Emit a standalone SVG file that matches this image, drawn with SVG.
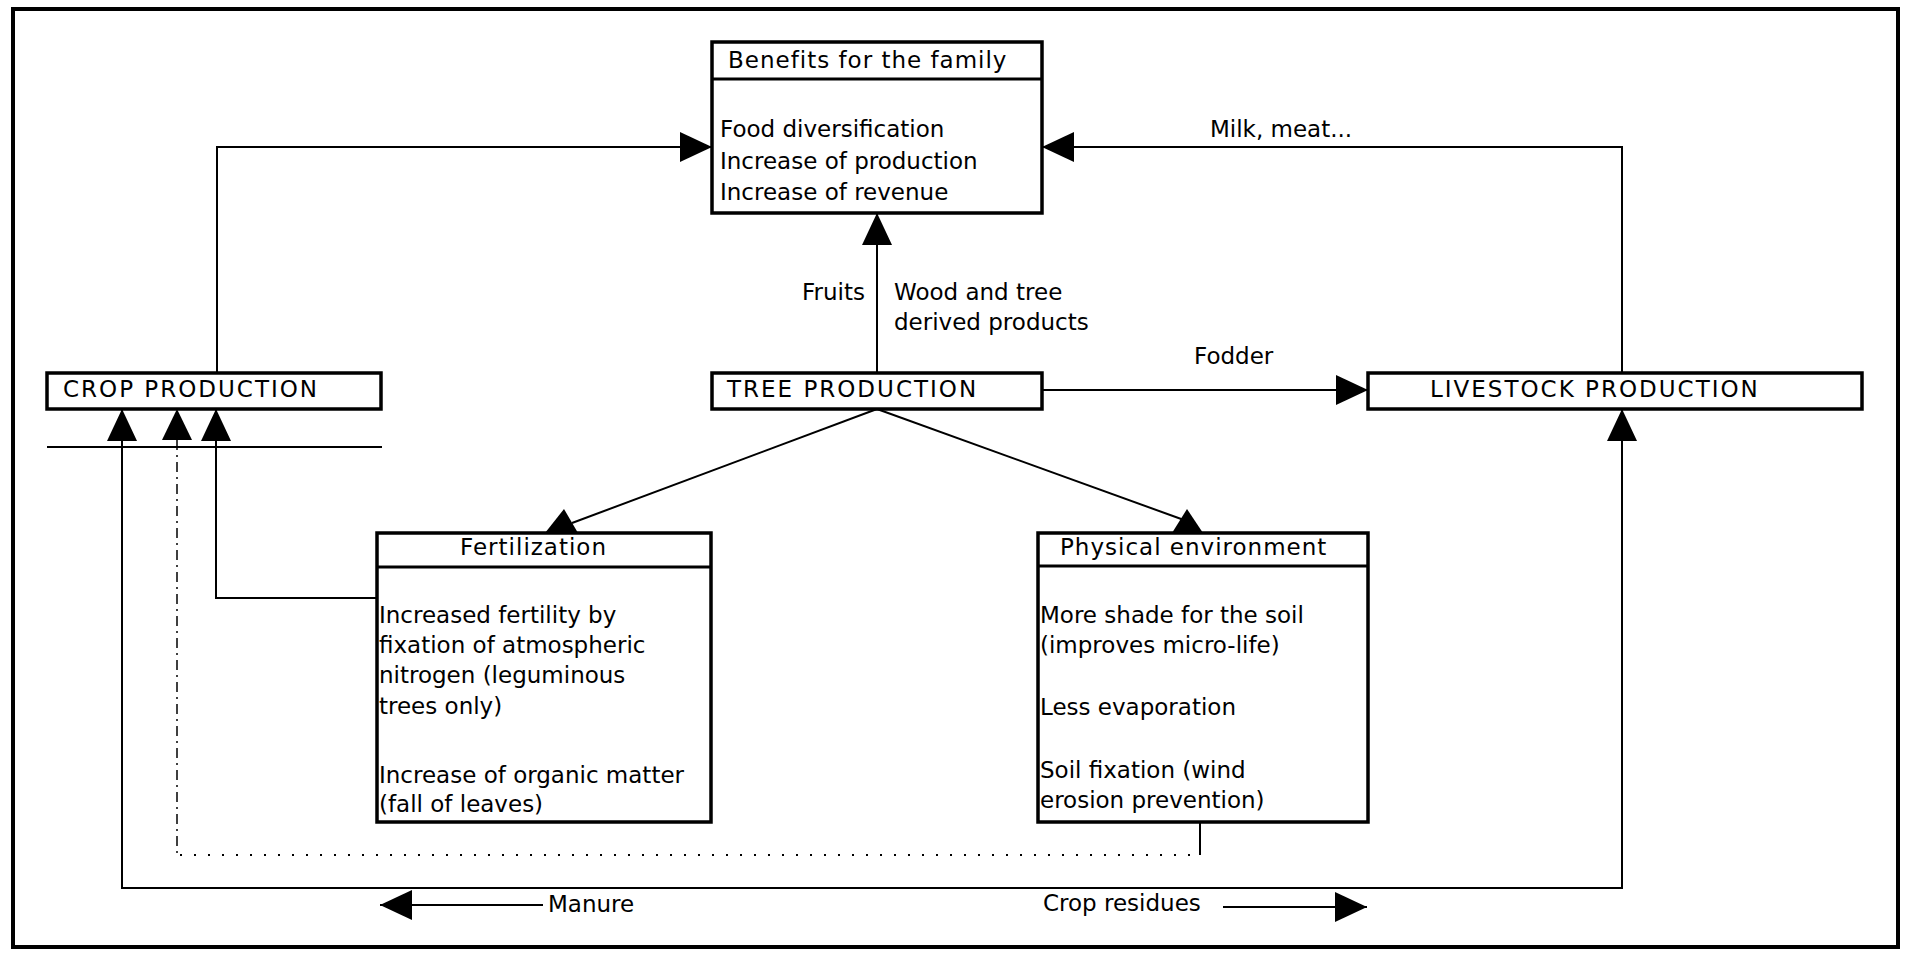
<svg xmlns="http://www.w3.org/2000/svg" width="1910" height="953" viewBox="0 0 1910 953">
<defs>
<style>
text{font-family:"DejaVu Sans","Liberation Sans",sans-serif;font-size:23px;fill:#000}
.cap{letter-spacing:2px}
.ttl{letter-spacing:1px}
.box{fill:#fff;stroke:#000;stroke-width:3.5}
.div{stroke:#000;stroke-width:3}
.ln{fill:none;stroke:#000;stroke-width:2}
.dash{fill:none;stroke:#000;stroke-width:1.5;stroke-dasharray:10 5 2 5}
.dot{fill:none;stroke:#000;stroke-width:2;stroke-dasharray:2 12}
.tri{fill:#000}
</style>
<marker id="ah" markerWidth="32" markerHeight="30" refX="32" refY="15" orient="auto-start-reverse" markerUnits="userSpaceOnUse">
<path d="M0,0 L32,15 L0,30 Z" fill="#000"/>
</marker>
</defs>
<rect x="13" y="9" width="1885" height="938" fill="#fff" stroke="#000" stroke-width="4"/>

<g id="connectors">
<path class="ln" d="M217,373 V147 H712" marker-end="url(#ah)"/>
<path class="ln" d="M1622,373 V147 H1042" marker-end="url(#ah)"/>
<path class="ln" d="M877,373 V213" marker-end="url(#ah)"/>
<path class="ln" d="M1042,390 H1368" marker-end="url(#ah)"/>
<path class="ln" d="M877,409 L572,523"/>
<polygon class="tri" points="545,533 578,533 564,509"/>
<path class="ln" d="M877,409 L1184,520"/>
<polygon class="tri" points="1172,533 1203,533 1187,509"/>
<line class="ln" x1="47" y1="447" x2="382" y2="447"/>
<path class="ln" d="M122,409 V888 H1622 V409" marker-start="url(#ah)" marker-end="url(#ah)"/>
<path class="ln" d="M216,409 V598 H377" marker-start="url(#ah)"/>
<path class="dash" d="M177,440 V855"/>
<polygon class="tri" points="162,440 192,440 177,409"/>
<path class="dot" d="M180,855 H1200"/>
<path class="ln" d="M1200,855 V823" stroke-width="1.5"/>
<path class="ln" d="M543,905 H380" marker-end="url(#ah)"/>
<path class="ln" d="M1223,907 H1367" marker-end="url(#ah)"/>
<text x="1210" y="137">Milk, meat...</text>
<text x="865" y="300" text-anchor="end">Fruits</text>
<text x="894" y="300">Wood and tree</text>
<text x="894" y="330">derived products</text>
<text x="1194" y="364">Fodder</text>
<text x="548" y="912">Manure</text>
<text x="1043" y="911">Crop residues</text>
</g>

<g id="benefits">
<rect class="box" x="712" y="42" width="330" height="171"/>
<line class="div" x1="712" y1="79" x2="1042" y2="79"/>
<text class="ttl" x="728" y="68">Benefits for the family</text>
<text x="720" y="137">Food diversification</text>
<text x="720" y="169">Increase of production</text>
<text x="720" y="200">Increase of revenue</text>
</g>

<g id="crop">
<rect class="box" x="47" y="373" width="334" height="36"/>
<text class="cap" x="63" y="397">CROP PRODUCTION</text>
</g>

<g id="tree">
<rect class="box" x="712" y="373" width="330" height="36"/>
<text class="cap" x="727" y="397">TREE PRODUCTION</text>
</g>

<g id="livestock">
<rect class="box" x="1368" y="373" width="494" height="36"/>
<text class="cap" x="1430" y="397">LIVESTOCK PRODUCTION</text>
</g>

<g id="fertilization">
<rect class="box" x="377" y="533" width="334" height="289"/>
<line class="div" x1="377" y1="567" x2="711" y2="567"/>
<text class="ttl" x="460" y="555">Fertilization</text>
<text x="379" y="623">Increased fertility by</text>
<text x="379" y="653">fixation of atmospheric</text>
<text x="379" y="683">nitrogen (leguminous</text>
<text x="379" y="714">trees only)</text>
<text x="379" y="783">Increase of organic matter</text>
<text x="379" y="812">(fall of leaves)</text>
</g>

<g id="physical">
<rect class="box" x="1038" y="533" width="330" height="289"/>
<line class="div" x1="1038" y1="566" x2="1368" y2="566"/>
<text class="ttl" x="1060" y="555">Physical environment</text>
<text x="1040" y="623">More shade for the soil</text>
<text x="1040" y="653">(improves micro-life)</text>
<text x="1040" y="715">Less evaporation</text>
<text x="1040" y="778">Soil fixation (wind</text>
<text x="1040" y="808">erosion prevention)</text>
</g>
</svg>
